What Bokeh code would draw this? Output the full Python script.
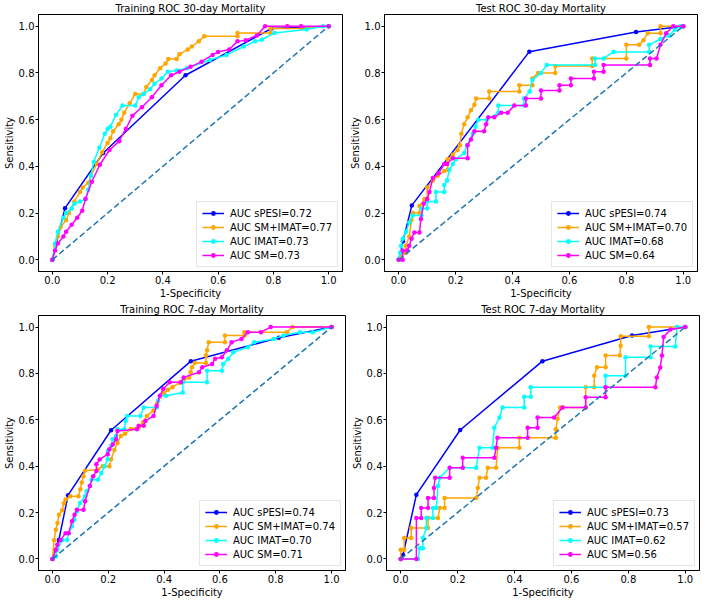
from bokeh.plotting import figure
from bokeh.layouts import column, row
from bokeh.models import FixedTicker, PrintfTickFormatter, Range1d, Legend, LegendItem
from bokeh.embed import file_html
from bokeh.resources import INLINE

FONT = "DejaVu Sans"
series_names = ["sPESI", "SM+IMAT", "IMAT", "SM"]
series_colors = ["#0000ff", "#ffa500", "#00ffff", "#ff00ff"]
tick_values = [0.0, 0.2, 0.4, 0.6, 0.8, 1.0]
diag_x = [0.0, 1.0]
diag_y = [0.0, 1.0]

titles = ["Training ROC 30-day Mortality", "Test ROC 30-day Mortality",
          "Training ROC 7-day Mortality", "Test ROC 7-day Mortality"]

# ---------- Training 30-day ----------
tr30_auc = [0.72, 0.77, 0.73, 0.73]
tr30_spesi_fpr = [0, 0.046, 0.184, 0.482, 0.793, 1.0]
tr30_spesi_tpr = [0, 0.221, 0.457, 0.79, 0.99, 1.0]
tr30_smimat_fpr = [0, 0.01, 0.02, 0.03, 0.05, 0.06, 0.08, 0.1, 0.11, 0.13, 0.14, 0.16, 0.18, 0.2, 0.21, 0.22, 0.24, 0.25, 0.26, 0.28, 0.3, 0.33, 0.34, 0.36, 0.37, 0.39, 0.41, 0.42, 0.45, 0.46, 0.49, 0.505, 0.53, 0.55, 0.67, 0.67, 0.79, 0.79, 0.9, 1.0]
tr30_smimat_tpr = [0, 0.06, 0.1, 0.14, 0.17, 0.2, 0.25, 0.29, 0.31, 0.33, 0.36, 0.41, 0.46, 0.5, 0.52, 0.55, 0.58, 0.6, 0.63, 0.67, 0.71, 0.71, 0.74, 0.77, 0.79, 0.82, 0.84, 0.86, 0.86, 0.88, 0.9, 0.913, 0.935, 0.957, 0.957, 0.971, 0.971, 0.99, 0.99, 1.0]
tr30_imat_fpr = [0, 0.01, 0.02, 0.04, 0.05, 0.07, 0.08, 0.1, 0.12, 0.13, 0.14, 0.15, 0.17, 0.19, 0.2, 0.21, 0.23, 0.254, 0.3, 0.313, 0.33, 0.354, 0.37, 0.395, 0.418, 0.45, 0.488, 0.57, 0.63, 0.693, 0.734, 0.758, 0.804, 0.92, 0.98, 1.0]
tr30_imat_tpr = [0, 0.07, 0.12, 0.18, 0.2, 0.22, 0.24, 0.25, 0.26, 0.3, 0.36, 0.42, 0.48, 0.54, 0.56, 0.57, 0.62, 0.66, 0.66, 0.696, 0.71, 0.73, 0.754, 0.776, 0.805, 0.81, 0.82, 0.855, 0.877, 0.913, 0.935, 0.942, 0.971, 0.986, 1.0, 1.0]
tr30_sm_fpr = [0, 0.01, 0.02, 0.04, 0.05, 0.07, 0.09, 0.108, 0.12, 0.143, 0.172, 0.207, 0.242, 0.266, 0.29, 0.324, 0.36, 0.395, 0.43, 0.46, 0.5, 0.54, 0.58, 0.6, 0.64, 0.67, 0.7, 0.74, 0.77, 0.85, 0.9, 1.0]
tr30_sm_tpr = [0, 0.04, 0.07, 0.1, 0.12, 0.15, 0.18, 0.21, 0.26, 0.334, 0.407, 0.47, 0.508, 0.56, 0.617, 0.653, 0.696, 0.747, 0.79, 0.805, 0.826, 0.848, 0.877, 0.89, 0.9, 0.935, 0.94, 0.96, 1.0, 1.0, 1.0, 1.0]

# ---------- Test 30-day ----------
te30_auc = [0.74, 0.70, 0.68, 0.64]
te30_spesi_fpr = [0, 0.015, 0.046, 0.459, 0.834, 1.0]
te30_spesi_tpr = [0, 0.08, 0.233, 0.891, 0.975, 1.0]
te30_smimat_fpr = [0, 0.015, 0.025, 0.025, 0.037, 0.045, 0.05, 0.073, 0.073, 0.09, 0.1, 0.1, 0.12, 0.137, 0.16, 0.172, 0.172, 0.19, 0.207, 0.215, 0.22, 0.23, 0.242, 0.254, 0.266, 0.272, 0.318, 0.318, 0.424, 0.424, 0.47, 0.47, 0.49, 0.55, 0.55, 0.68, 0.68, 0.8, 0.8, 0.845, 0.86, 0.875, 0.92, 0.92, 1.0]
te30_smimat_tpr = [0, 0.03, 0.03, 0.06, 0.1, 0.17, 0.2, 0.2, 0.23, 0.26, 0.26, 0.31, 0.34, 0.36, 0.38, 0.385, 0.43, 0.45, 0.47, 0.49, 0.54, 0.58, 0.61, 0.64, 0.664, 0.69, 0.69, 0.72, 0.72, 0.747, 0.747, 0.776, 0.8, 0.8, 0.83, 0.83, 0.862, 0.862, 0.92, 0.92, 0.94, 0.97, 0.97, 1.0, 1.0]
te30_imat_fpr = [0, 0.005, 0.008, 0.014, 0.026, 0.037, 0.049, 0.08, 0.08, 0.1, 0.1, 0.131, 0.131, 0.16, 0.16, 0.17, 0.178, 0.19, 0.2, 0.23, 0.24, 0.26, 0.27, 0.28, 0.31, 0.35, 0.35, 0.44, 0.44, 0.46, 0.47, 0.5, 0.52, 0.69, 0.69, 0.72, 0.755, 0.88, 0.88, 0.92, 0.95, 0.97, 0.99, 1.0]
te30_imat_tpr = [0, 0.03, 0.06, 0.09, 0.12, 0.16, 0.19, 0.19, 0.22, 0.22, 0.25, 0.25, 0.29, 0.29, 0.32, 0.34, 0.385, 0.41, 0.43, 0.457, 0.49, 0.54, 0.57, 0.6, 0.6, 0.63, 0.66, 0.66, 0.69, 0.72, 0.77, 0.8, 0.834, 0.834, 0.862, 0.862, 0.89, 0.89, 0.92, 0.945, 0.96, 0.985, 1.0, 1.0]
te30_sm_fpr = [0, 0.014, 0.014, 0.03, 0.037, 0.045, 0.055, 0.073, 0.078, 0.088, 0.1, 0.108, 0.12, 0.14, 0.16, 0.17, 0.19, 0.242, 0.242, 0.254, 0.266, 0.3, 0.307, 0.315, 0.336, 0.36, 0.383, 0.406, 0.447, 0.447, 0.5, 0.5, 0.565, 0.565, 0.605, 0.605, 0.686, 0.686, 0.72, 0.72, 0.883, 0.883, 0.906, 0.92, 0.94, 0.965, 1.0]
te30_sm_tpr = [0, 0, 0.04, 0.04, 0.06, 0.09, 0.117, 0.117, 0.175, 0.24, 0.26, 0.29, 0.35, 0.37, 0.41, 0.41, 0.435, 0.435, 0.49, 0.515, 0.55, 0.55, 0.58, 0.61, 0.61, 0.63, 0.63, 0.66, 0.66, 0.69, 0.69, 0.725, 0.725, 0.747, 0.747, 0.776, 0.776, 0.805, 0.805, 0.834, 0.834, 0.862, 0.862, 0.92, 0.97, 1.0, 1.0]

# ---------- Training 7-day ----------
tr7_auc = [0.74, 0.74, 0.70, 0.71]
tr7_spesi_fpr = [0, 0.023, 0.056, 0.21, 0.496, 0.811, 1.0]
tr7_spesi_tpr = [0, 0.082, 0.275, 0.555, 0.853, 0.954, 1.0]
tr7_smimat_fpr = [0, 0.006, 0.012, 0.018, 0.023, 0.035, 0.041, 0.047, 0.064, 0.093, 0.1, 0.105, 0.111, 0.117, 0.163, 0.18, 0.204, 0.21, 0.222, 0.233, 0.245, 0.26, 0.28, 0.31, 0.325, 0.338, 0.362, 0.375, 0.385, 0.4, 0.414, 0.43, 0.455, 0.47, 0.49, 0.495, 0.5, 0.51, 0.55, 0.55, 0.554, 0.56, 0.618, 0.618, 0.688, 0.688, 0.84, 0.86, 1.0]
tr7_smimat_tpr = [0, 0.08, 0.126, 0.155, 0.19, 0.21, 0.24, 0.256, 0.27, 0.27, 0.3, 0.33, 0.357, 0.38, 0.386, 0.4, 0.4, 0.43, 0.47, 0.5, 0.53, 0.54, 0.56, 0.57, 0.59, 0.617, 0.64, 0.67, 0.7, 0.715, 0.73, 0.74, 0.76, 0.77, 0.783, 0.805, 0.827, 0.845, 0.845, 0.877, 0.9, 0.935, 0.935, 0.964, 0.964, 0.978, 0.978, 1.0, 1.0]
tr7_imat_fpr = [0, 0.012, 0.0175, 0.035, 0.0525, 0.058, 0.07, 0.079, 0.0875, 0.099, 0.117, 0.1225, 0.134, 0.14, 0.163, 0.175, 0.187, 0.198, 0.198, 0.21, 0.216, 0.228, 0.233, 0.257, 0.2625, 0.268, 0.315, 0.327, 0.373, 0.379, 0.385, 0.408, 0.467, 0.467, 0.554, 0.554, 0.607, 0.612, 0.63, 0.648, 0.7, 0.723, 0.793, 0.828, 0.887, 0.933, 1.0]
tr7_imat_tpr = [0, 0.01, 0.039, 0.082, 0.082, 0.111, 0.14, 0.169, 0.205, 0.241, 0.27, 0.292, 0.314, 0.342, 0.342, 0.371, 0.4, 0.43, 0.465, 0.487, 0.516, 0.53, 0.559, 0.559, 0.595, 0.617, 0.617, 0.653, 0.653, 0.682, 0.704, 0.704, 0.718, 0.762, 0.762, 0.812, 0.812, 0.841, 0.863, 0.892, 0.913, 0.935, 0.949, 0.964, 0.978, 0.978, 1.0]
tr7_sm_fpr = [0, 0.012, 0.0175, 0.029, 0.047, 0.058, 0.07, 0.079, 0.0875, 0.111, 0.117, 0.134, 0.146, 0.1575, 0.1575, 0.169, 0.198, 0.204, 0.216, 0.228, 0.233, 0.303, 0.309, 0.327, 0.333, 0.362, 0.373, 0.385, 0.397, 0.42, 0.46, 0.47, 0.525, 0.537, 0.572, 0.583, 0.607, 0.625, 0.642, 0.677, 0.7, 0.747, 0.782, 1.0]
tr7_sm_tpr = [0, 0.039, 0.061, 0.082, 0.111, 0.111, 0.162, 0.191, 0.212, 0.212, 0.249, 0.314, 0.357, 0.379, 0.408, 0.429, 0.451, 0.473, 0.494, 0.516, 0.552, 0.559, 0.574, 0.574, 0.595, 0.617, 0.66, 0.704, 0.733, 0.762, 0.762, 0.783, 0.805, 0.827, 0.841, 0.863, 0.87, 0.9, 0.935, 0.949, 0.978, 0.978, 1.0, 1.0]

# ---------- Test 7-day ----------
te7_auc = [0.73, 0.57, 0.62, 0.56]
te7_spesi_fpr = [0, 0.008, 0.055, 0.209, 0.498, 0.813, 1.0]
te7_spesi_tpr = [0, 0.017, 0.277, 0.556, 0.853, 0.964, 1.0]
te7_smimat_fpr = [0, 0, 0.012, 0.012, 0.037, 0.037, 0.096, 0.096, 0.131, 0.137, 0.154, 0.154, 0.265, 0.271, 0.277, 0.3, 0.306, 0.335, 0.341, 0.417, 0.417, 0.545, 0.545, 0.551, 0.56, 0.65, 0.65, 0.68, 0.68, 0.69, 0.72, 0.72, 0.77, 0.773, 0.773, 0.872, 0.872, 1.0]
te7_smimat_tpr = [0, 0.039, 0.039, 0.09, 0.09, 0.133, 0.133, 0.176, 0.176, 0.22, 0.22, 0.263, 0.263, 0.306, 0.35, 0.35, 0.393, 0.393, 0.48, 0.48, 0.523, 0.523, 0.559, 0.605, 0.653, 0.653, 0.74, 0.74, 0.79, 0.827, 0.827, 0.877, 0.877, 0.92, 0.96, 0.96, 1.0, 1.0]
te7_imat_fpr = [0, 0.061, 0.067, 0.078, 0.078, 0.09, 0.09, 0.113, 0.113, 0.125, 0.131, 0.137, 0.172, 0.265, 0.277, 0.323, 0.329, 0.347, 0.358, 0.434, 0.434, 0.457, 0.457, 0.72, 0.72, 0.79, 0.79, 0.878, 0.878, 0.965, 0.971, 1.0]
te7_imat_tpr = [0, 0, 0.046, 0.046, 0.09, 0.133, 0.176, 0.176, 0.22, 0.22, 0.314, 0.35, 0.393, 0.393, 0.48, 0.48, 0.566, 0.61, 0.653, 0.653, 0.7, 0.7, 0.74, 0.74, 0.79, 0.79, 0.87, 0.87, 0.916, 0.916, 1.0, 1.0]
te7_sm_fpr = [0, 0.055, 0.055, 0.072, 0.072, 0.096, 0.096, 0.117, 0.117, 0.121, 0.172, 0.172, 0.218, 0.218, 0.329, 0.335, 0.34, 0.446, 0.446, 0.481, 0.481, 0.539, 0.569, 0.65, 0.65, 0.72, 0.72, 0.895, 0.9, 0.912, 0.918, 0.924, 0.948, 1.0]
te7_sm_tpr = [0, 0, 0.176, 0.176, 0.22, 0.22, 0.263, 0.263, 0.306, 0.35, 0.35, 0.393, 0.393, 0.436, 0.436, 0.48, 0.523, 0.523, 0.566, 0.566, 0.61, 0.61, 0.653, 0.653, 0.697, 0.697, 0.74, 0.74, 0.783, 0.826, 0.877, 0.957, 0.99, 1.0]

panels_data = [
    (tr30_auc, [(tr30_spesi_fpr, tr30_spesi_tpr), (tr30_smimat_fpr, tr30_smimat_tpr), (tr30_imat_fpr, tr30_imat_tpr), (tr30_sm_fpr, tr30_sm_tpr)]),
    (te30_auc, [(te30_spesi_fpr, te30_spesi_tpr), (te30_smimat_fpr, te30_smimat_tpr), (te30_imat_fpr, te30_imat_tpr), (te30_sm_fpr, te30_sm_tpr)]),
    (tr7_auc, [(tr7_spesi_fpr, tr7_spesi_tpr), (tr7_smimat_fpr, tr7_smimat_tpr), (tr7_imat_fpr, tr7_imat_tpr), (tr7_sm_fpr, tr7_sm_tpr)]),
    (te7_auc, [(te7_spesi_fpr, te7_spesi_tpr), (te7_smimat_fpr, te7_smimat_tpr), (te7_imat_fpr, te7_imat_tpr), (te7_sm_fpr, te7_sm_tpr)]),
]

# layout: (width, height, min_border_left, min_border_right)
geometry = [(343, 301, 30, 1), (357, 301, 41, 3), (346, 299, 31, 1), (354, 299, 40, 1)]


def make_panel(title, aucs, curves, geo):
    w, h, bl, br = geo
    p = figure(width=w, height=h, output_backend="svg", toolbar_location=None,
               x_range=Range1d(-0.05, 1.05), y_range=Range1d(-0.05, 1.05),
               min_border_left=bl, min_border_right=br, min_border_top=0,
               min_border_bottom=28)
    p.title.text = title
    p.title.align = "center"
    p.title.text_font = FONT
    p.title.text_font_size = "10px"
    p.title.text_font_style = "normal"
    p.title.text_color = "#000000"
    p.title.standoff = 1
    p.grid.visible = False
    p.outline_line_color = "black"
    p.outline_line_width = 1
    p.outline_line_alpha = 1
    p.background_fill_color = "white"
    p.border_fill_color = "white"
    for ax in (p.xaxis[0], p.yaxis[0]):
        ax.ticker = FixedTicker(ticks=tick_values)
        ax.formatter = PrintfTickFormatter(format="%.1f")
        ax.major_label_text_font = FONT
        ax.major_label_text_font_size = "10px"
        ax.major_label_text_color = "#000000"
        ax.axis_label_text_font = FONT
        ax.axis_label_text_font_size = "10px"
        ax.axis_label_text_font_style = "normal"
        ax.axis_label_text_color = "#000000"
        ax.minor_tick_line_color = None
        ax.major_tick_in = 0
        ax.major_tick_out = 3
        ax.major_label_standoff = 1
        ax.axis_label_standoff = 1
        ax.axis_line_color = "black"
    p.xaxis.axis_label = "1-Specificity"
    p.yaxis.axis_label = "Sensitivity"

    items = []
    for name, color, auc, (fx, ty) in zip(series_names, series_colors, aucs, curves):
        n = min(len(fx), len(ty))
        fx, ty = fx[:n], ty[:n]
        rl = p.line(fx, ty, line_color=color, line_width=1.5)
        rs = p.scatter(fx, ty, size=4.5, fill_color=color, line_color=None)
        items.append(LegendItem(label=f"AUC {name}={auc:.2f}", renderers=[rl, rs]))
    p.line(diag_x, diag_y, line_color="#1f77b4", line_width=1.5, line_dash="6 3")

    leg = Legend(items=items, location="bottom_right")
    leg.label_text_font = FONT
    leg.label_text_font_size = "10px"
    leg.label_text_color = "#000000"
    leg.glyph_width = 22
    leg.glyph_height = 12
    leg.label_height = 12
    leg.label_standoff = 6
    leg.spacing = 2
    leg.padding = 5
    leg.margin = 4
    leg.border_line_color = "#cccccc"
    leg.border_line_width = 1
    leg.background_fill_alpha = 0.8
    p.add_layout(leg)
    return p


figs = [make_panel(t, a, c, g) for t, (a, c), g in zip(titles, panels_data, geometry)]
layout = column(row(figs[0], figs[1]), row(figs[2], figs[3]))

with open("out.html", "w") as f:
    f.write(file_html(layout, INLINE))
